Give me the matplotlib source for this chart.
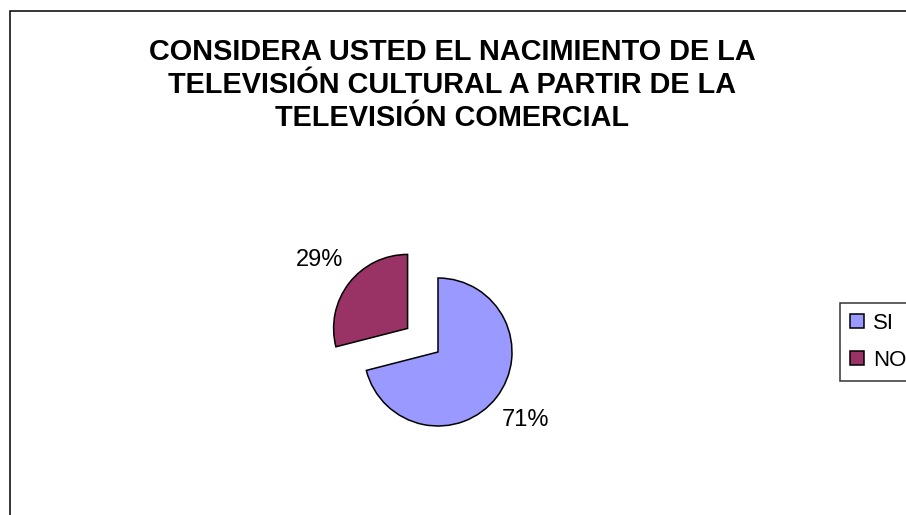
import matplotlib.pyplot as plt
from matplotlib.patches import Rectangle, Patch

plt.rcParams['font.family'] = ['Liberation Sans', 'DejaVu Sans']

# survey answers
categorias = ['SI', 'NO']
porcentajes = [71, 29]
colores = ['#9999FF', '#993366']
separacion = [0, 0.52]
titulo = 'CONSIDERA USTED EL NACIMIENTO DE LA\nTELEVISIÓN CULTURAL A PARTIR DE LA\nTELEVISIÓN COMERCIAL'

W, H = 906, 515
fig = plt.figure(figsize=(W / 100, H / 100), dpi=100)

# outer chart border (runs off the right and bottom edges)
fig.patches.append(Rectangle((10 / W, -0.05), 1.1, 1 - 11 / H + 0.05,
                             transform=fig.transFigure, fill=False,
                             edgecolor='black', linewidth=1.1))

fig.text(452 / W, 1 - 85 / H, titulo, ha='center', va='center',
         fontsize=20.8, fontweight='bold', linespacing=1.22)

# pie axes: 74 px per unit, centre of the main slice at (438, 352)
cx, cy, r = 438, 352, 74
ax = fig.add_axes([(cx - 2 * r) / W, (H - cy - 2 * r) / H, 4 * r / W, 4 * r / H])
wedges, textos, pcts = ax.pie(porcentajes, colors=colores, explode=separacion,
                              startangle=90, counterclock=False,
                              autopct='%1.0f%%', pctdistance=1.5,
                              wedgeprops=dict(edgecolor='black', linewidth=1.1))
for t in pcts:
    t.set_fontsize(17)
ax.set_xlim(-2, 2)
ax.set_ylim(-2, 2)
ax.set_aspect('equal')
ax.axis('off')

manejadores = [Patch(facecolor=c, edgecolor='black', linewidth=1.1) for c in colores]
leg = fig.legend(manejadores, categorias, loc='upper left',
                 bbox_to_anchor=(840 / W, 1 - 303 / H), bbox_transform=fig.transFigure,
                 borderaxespad=0, fancybox=False, edgecolor='black', fontsize=16,
                 handlelength=0.62, handleheight=0.62, handletextpad=0.4,
                 labelspacing=0.72, borderpad=0.45)
leg.get_frame().set_linewidth(1.1)

fig.savefig('out.png', dpi=100, facecolor='white')
